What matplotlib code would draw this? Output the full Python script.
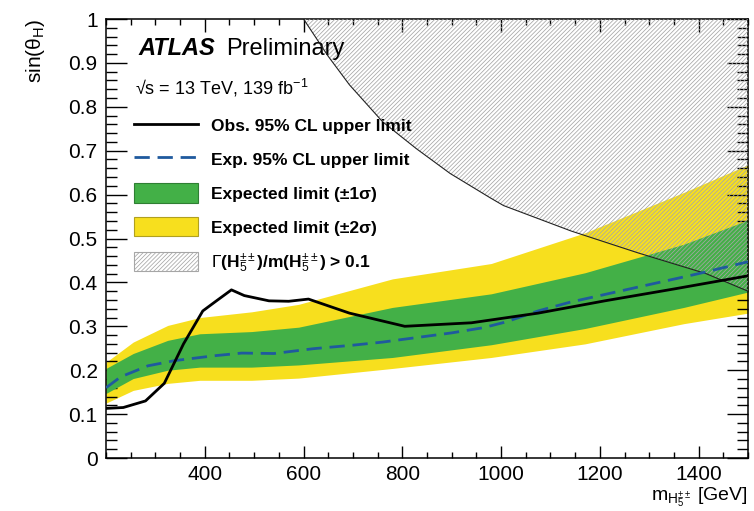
import matplotlib
matplotlib.use("Agg")
import matplotlib.pyplot as plt
from matplotlib.lines import Line2D
from matplotlib.patches import Patch
from matplotlib.ticker import MultipleLocator, FixedLocator, FuncFormatter

plt.rcParams['font.family'] = ['Liberation Sans', 'DejaVu Sans']
plt.rcParams['mathtext.fontset'] = 'custom'
plt.rcParams['mathtext.rm'] = 'Liberation Sans'
plt.rcParams['mathtext.it'] = 'Liberation Sans:italic'
plt.rcParams['mathtext.bf'] = 'Liberation Sans:bold'
plt.rcParams['hatch.linewidth'] = 0.55

# ---- data ----
band_mass = [200, 255, 325, 390, 495, 590, 780, 980, 1170, 1370, 1500]
band_2s_up = [0.218, 0.264, 0.302, 0.320, 0.333, 0.350, 0.408, 0.443, 0.513, 0.605, 0.668]
band_1s_up = [0.204, 0.238, 0.268, 0.283, 0.288, 0.298, 0.343, 0.374, 0.422, 0.487, 0.542]
band_1s_dn = [0.147, 0.181, 0.200, 0.207, 0.207, 0.212, 0.229, 0.258, 0.295, 0.343, 0.378]
band_2s_dn = [0.125, 0.154, 0.170, 0.177, 0.177, 0.182, 0.204, 0.229, 0.260, 0.306, 0.330]

exp_mass = [200, 230, 285, 340, 420, 475, 540, 620, 700, 760, 800, 900, 965, 1010, 1075, 1140, 1300, 1400, 1500]
exp_limit = [0.160, 0.185, 0.210, 0.222, 0.233, 0.239, 0.238, 0.249, 0.257, 0.264, 0.270, 0.285, 0.297, 0.310, 0.335, 0.355, 0.395, 0.420, 0.447]

obs_mass = [200, 235, 280, 318, 357, 396, 420, 454, 480, 530, 570, 610, 693, 805, 940, 1075, 1210, 1350, 1500]
obs_limit = [0.113, 0.115, 0.130, 0.170, 0.260, 0.335, 0.355, 0.383, 0.370, 0.358, 0.357, 0.362, 0.330, 0.300, 0.308, 0.330, 0.358, 0.385, 0.415]

width_mass = [600, 650, 693, 760, 828, 897, 979, 1005, 1142, 1278, 1415, 1500]
width_bound = [1.0, 0.915, 0.850, 0.766, 0.705, 0.648, 0.592, 0.575, 0.517, 0.467, 0.420, 0.380]

xticks_major = [400, 600, 800, 1000, 1200, 1400]
yticks_major = [0, 0.1, 0.2, 0.3, 0.4, 0.5, 0.6, 0.7, 0.8, 0.9, 1.0]

legend_labels = ["Obs. 95% CL upper limit", "Exp. 95% CL upper limit",
                 "Expected limit (\u00b11\u03c3)", "Expected limit (\u00b12\u03c3)",
                 r"$\Gamma$(H$_5^{\pm\pm}$)/m(H$_5^{\pm\pm}$) > 0.1"]

c_green = '#43b047'
c_yellow = '#f7df1e'
c_blue = '#1f5a9e'
c_hatch = '#a6a6a6'

fig = plt.figure(figsize=(7.54, 5.11), dpi=100)
ax = fig.add_axes([106/754, 1-458/511, 642/754, 439/511])

ax.fill_between(band_mass, band_2s_dn, band_2s_up, color=c_yellow, lw=0, zorder=1)
ax.fill_between(band_mass, band_1s_dn, band_1s_up, color=c_green, lw=0, zorder=2)
ax.fill_between(width_mass, width_bound, [1.0]*len(width_mass), facecolor='none',
                edgecolor=c_hatch, hatch='////////', lw=0, zorder=3)
ax.plot(width_mass, width_bound, color='#222222', lw=0.8, zorder=4)
exp_line, = ax.plot(exp_mass, exp_limit, color=c_blue, lw=2.0, zorder=5)
exp_line.set_dashes((5.5, 2.8))
ax.plot(obs_mass, obs_limit, color='black', lw=2.0, zorder=6)

ax.set_xlim(200, 1500)
ax.set_ylim(0, 1)
ax.xaxis.set_major_locator(FixedLocator(xticks_major))
ax.xaxis.set_minor_locator(MultipleLocator(50))
ax.yaxis.set_major_locator(FixedLocator(yticks_major))
ax.yaxis.set_minor_locator(MultipleLocator(0.02))
ax.yaxis.set_major_formatter(FuncFormatter(lambda v, p: '0' if v == 0 else ('1' if v == 1 else f'{v:.1f}')))

ax.tick_params(which='both', direction='in', top=True, right=True, width=1.0, labelsize=15)
ax.tick_params(axis='x', which='major', length=9, pad=5)
ax.tick_params(axis='x', which='minor', length=4.5)
ax.tick_params(axis='y', which='major', length=15, pad=6)
ax.tick_params(axis='y', which='minor', length=8)
for s in ax.spines.values():
    s.set_linewidth(1.1)

ax.set_xlabel(r"m$_{\mathregular{H_5^{\pm\pm}}}$ [GeV]", fontsize=14, ha='right')
ax.xaxis.set_label_coords(1.0, -0.062)
ax.set_ylabel(r"sin($\mathregular{\theta_H}$)", fontsize=15, ha='right')
ax.yaxis.set_label_coords(-0.092, 1.0)

ax.text((138-106)/642, (458-55)/439, "ATLAS", transform=ax.transAxes, fontsize=17,
        fontweight='bold', fontstyle='italic', va='baseline', ha='left')
ax.text((226-106)/642, (458-55)/439, "Preliminary", transform=ax.transAxes, fontsize=17,
        va='baseline', ha='left')
ax.text((135-106)/642, (458-94)/439, "\u221as = 13 TeV, 139 fb$^{-1}$", transform=ax.transAxes,
        fontsize=13, va='baseline', ha='left')

handles = [Line2D([], [], color='black', lw=2.0),
           Line2D([], [], color=c_blue, lw=2.0, dashes=(5.5, 2.8)),
           Patch(facecolor=c_green, edgecolor='#2f7f33', lw=0.8),
           Patch(facecolor=c_yellow, edgecolor='#b0a020', lw=0.8),
           Patch(facecolor='white', edgecolor=c_hatch, hatch='////////', lw=0.8)]
ax.legend(handles, legend_labels, loc='upper left', bbox_to_anchor=((134-106)/642, (458-116)/439),
          frameon=False, borderpad=0, borderaxespad=0, handlelength=3.7, handleheight=1.32,
          labelspacing=0.84, handletextpad=0.72, prop={'weight': 'bold', 'size': 12.5})

fig.savefig("out.png", dpi=100)
